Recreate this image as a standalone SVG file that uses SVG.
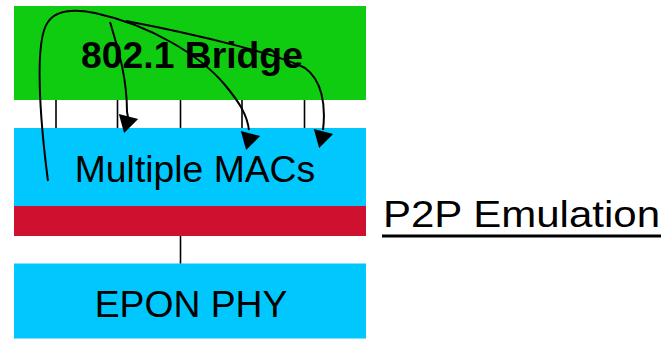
<svg xmlns="http://www.w3.org/2000/svg" xmlns:xlink="http://www.w3.org/1999/xlink" width="664" height="339" viewBox="0 0 664 339">
  <style>
    .lbl { font-family: "Liberation Sans", Arial, sans-serif; font-size: 37.3px; fill: #000; }
    .bold { font-weight: bold; }
    .tick { stroke: #000; stroke-width: 1.6; fill: none; }
    .curve { stroke: #000; stroke-width: 2; fill: none; }
  </style>
  <defs>
    <!-- arrowhead pointing along +x, base centred on the origin -->
    <polygon id="head" points="0,-10 17,0 0,10" fill="#000"/>
  </defs>

  <g id="bridge">
    <rect x="14" y="6" width="352" height="94" fill="#10CC10"/>
    <text class="lbl bold" x="192" y="68" text-anchor="middle">802.1 Bridge</text>
  </g>

  <g id="macs">
    <rect x="14" y="128" width="352" height="78" fill="#00C8FF"/>
    <text class="lbl" x="195" y="182" text-anchor="middle">Multiple MACs</text>
  </g>

  <g id="emulation">
    <rect x="14" y="206" width="352" height="30" fill="#D0102F"/>
    <text class="lbl" x="383" y="227" textLength="277" lengthAdjust="spacingAndGlyphs">P2P Emulation</text>
    <rect x="382" y="234.5" width="279" height="3" fill="#000"/>
  </g>

  <g id="phy">
    <rect x="14" y="263.5" width="352" height="75" fill="#00C8FF"/>
    <text class="lbl" x="191" y="317" text-anchor="middle">EPON PHY</text>
  </g>

  <g id="connectors">
    <!-- service access points between bridge and MACs -->
    <line class="tick" x1="56" y1="100" x2="56" y2="128"/>
    <line class="tick" x1="117.5" y1="100" x2="117.5" y2="128"/>
    <line class="tick" x1="180.5" y1="100" x2="180.5" y2="128"/>
    <line class="tick" x1="242" y1="100" x2="242" y2="128"/>
    <line class="tick" x1="304.5" y1="100" x2="304.5" y2="128"/>
    <!-- emulation layer to PHY -->
    <line class="tick" x1="180.5" y1="236" x2="180.5" y2="263.5"/>

    <!-- forwarding paths -->
    <path class="curve" d="M48,181 C40,120 34,40 48,22 C56,10 75,9 95,13 C150,25 200,55 225,85 C240,103 247,115 249,130"/>
    <path class="curve" d="M110,22 C120,55 127,80 127,112 L128,117"/>
    <path class="curve" d="M126,21 C200,35 280,55 305,68 C322,80 326,105 323,130"/>

    <use xlink:href="#head" transform="translate(128.5,116.5) rotate(105)"/>
    <use xlink:href="#head" transform="translate(250.5,133.5) rotate(105)"/>
    <use xlink:href="#head" transform="translate(323.5,131.5) rotate(105)"/>
  </g>
</svg>
